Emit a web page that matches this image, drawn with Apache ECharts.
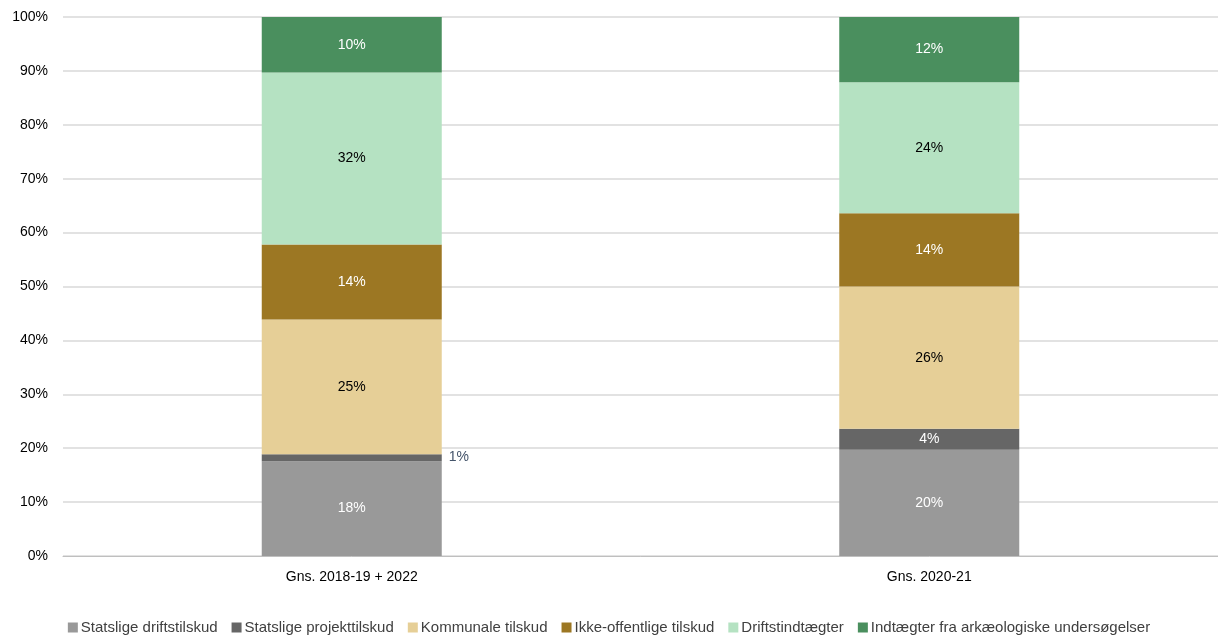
<!DOCTYPE html>
<html><head><meta charset="utf-8">
<script src="https://cdn.jsdelivr.net/npm/echarts@6/dist/echarts.min.js"></script>
<style>html,body{margin:0;padding:0;background:#fff}#c{width:1218px;height:638px}</style>
</head><body><div id="c"></div>
<script>
const categories = ['Gns. 2018-19 + 2022', 'Gns. 2020-21'];
const seriesNames = ['Statslige driftstilskud','Statslige projekttilskud','Kommunale tilskud','Ikke-offentlige tilskud','Driftstindtægter','Indtægter fra arkæologiske undersøgelser'];
const statsligeDrift = [17.6, 19.7];
const statsligeProjekt = [1.3, 3.9];
const kommunale = [25.0, 26.4];
const ikkeOffentlige = [13.9, 13.6];
const driftsindtaegter = [31.9, 24.3];
const arkaeologiske = [10.3, 12.1];
const yTicks = [0, 10, 20, 30, 40, 50, 60, 70, 80, 90, 100];

const values = [statsligeDrift, statsligeProjekt, kommunale, ikkeOffentlige, driftsindtaegter, arkaeologiske];
const colors = ['#999999','#666666','#E6CF97','#9C7723','#B5E2C2','#4A8F5E'];
const labelColors = ['#ffffff','#ffffff','#000000','#ffffff','#000000','#ffffff'];
const font = '"Liberation Sans", Arial, sans-serif';

const series = values.map((arr, i) => ({
  name: seriesNames[i],
  type: 'bar',
  stack: 'total',
  barWidth: 180,
  itemStyle: { color: colors[i] },
  label: {
    show: true, position: 'inside', color: labelColors[i], fontSize: 14, fontFamily: font,
    formatter: p => Math.round(p.value) + '%'
  },
  data: arr.map((v, j) => {
    if (i === 1 && j === 0) {
      return { value: v, label: { position: 'right', color: '#44546A', distance: 7 } };
    }
    return v;
  })
}));

const chart = echarts.init(document.getElementById('c'));
chart.setOption({
  animation: false,
  grid: { left: 63, width: 1158, top: 17, bottom: 82, containLabel: false },
  legend: {
    bottom: -2, left: 'center', itemWidth: 10, itemHeight: 10, itemGap: 14,
    icon: 'rect',
    textStyle: { fontSize: 15, color: '#404040', fontFamily: font, padding: [0,0,0,-2] },
    data: seriesNames
  },
  xAxis: {
    type: 'category', data: categories,
    axisLine: { lineStyle: { color: '#BFBFBF', width: 1 } },
    axisTick: { show: false },
    axisLabel: { color: '#000000', fontSize: 14, margin: 14, fontFamily: font }
  },
  yAxis: {
    type: 'value', min: 0, max: 100, interval: 10,
    axisLine: { show: false }, axisTick: { show: false },
    splitLine: { lineStyle: { color: '#D9D9D9', width: 1.5 } },
    axisLabel: {
      color: '#000000', fontSize: 14, margin: 15, fontFamily: font,
      formatter: v => yTicks.includes(v) ? v + '%' : ''
    }
  },
  series: series
});
</script></body></html>
